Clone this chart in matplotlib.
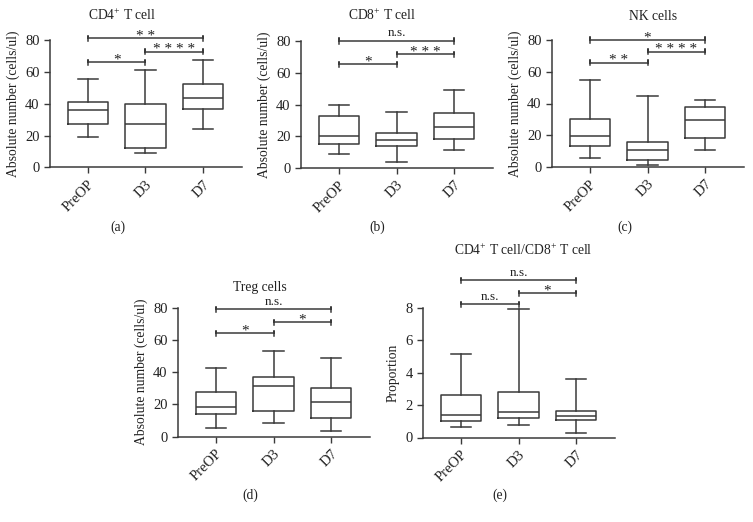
"""Box plots of lymphocyte subsets at PreOP, D3 and D7."""

import matplotlib
matplotlib.use("Agg")
import matplotlib.pyplot as plt

plt.rcParams["font.family"] = ["Liberation Serif", "DejaVu Serif"]
plt.rcParams["mathtext.fontset"] = "custom"
plt.rcParams["mathtext.rm"] = "Liberation Serif"

GROUPS = ["PreOP", "D3", "D7"]

# five-number summaries per group: whisker low, Q1, median, Q3, whisker high
CD4_STATS = [[19, 27.5, 36, 41.5, 56], [9, 12.5, 27.5, 40, 61.5], [24, 37, 43.5, 52.5, 67.5]]
CD8_STATS = [[9, 15, 20, 33, 40], [4, 14, 17.5, 22, 35], [11.5, 18.5, 26, 34.5, 49]]
NK_STATS = [[5.5, 13.5, 19.5, 30, 55], [1.5, 4.5, 11, 16, 45], [11, 18.5, 29.5, 38, 42]]
TREG_STATS = [[5.4, 13.9, 18.1, 27.6, 42.8], [8.3, 15.6, 31.2, 37, 53.4], [3.7, 11.6, 21.4, 30.4, 49]]
RATIO_STATS = [[0.62, 1.0, 1.41, 2.65, 5.13], [0.78, 1.21, 1.6, 2.83, 7.9], [0.29, 1.07, 1.31, 1.66, 3.59]]

# significance brackets: (group i, group j, height, label)
CD4_SIG = [(0, 1, 66.3, "*"), (1, 2, 73, "****"), (0, 2, 81.4, "**")]
CD8_SIG = [(0, 1, 65.3, "*"), (1, 2, 71.6, "***"), (0, 2, 80, "n.s.")]
NK_SIG = [(0, 1, 65.7, "**"), (1, 2, 72.6, "****"), (0, 2, 80, "*")]
TREG_SIG = [(0, 1, 64.2, "*"), (1, 2, 70.9, "*"), (0, 2, 79, "n.s.")]
RATIO_SIG = [(0, 1, 8.2, "n.s."), (1, 2, 8.88, "*"), (0, 2, 9.7, "n.s.")]

Y_TICKS_ABS = [0, 20, 40, 60, 80]
Y_TICKS_RATIO = [0, 2, 4, 6, 8]

W, H = 753, 522
LINE = "#3a3a3a"
fig = plt.figure(figsize=(W / 100, H / 100), dpi=100)


def add_panel(pre_px, top_px, bottom_px):
    # place axes so that the PreOP box sits at pre_px
    left = pre_px - 0.66 * 57.5
    width = 3.34 * 57.5
    return fig.add_axes([left / W, 1 - bottom_px / H, width / W, (bottom_px - top_px) / H])


def draw_panel(ax, stats, sig, yticks, ylabel, title, title_xy, tag, tag_xy):
    bx = [dict(whislo=s[0], q1=s[1], med=s[2], q3=s[3], whishi=s[4], label=g)
          for s, g in zip(stats, GROUPS)]
    props = dict(color=LINE, linewidth=1.1)
    ax.bxp(bx, positions=range(len(GROUPS)), widths=0.7, capwidths=0.35,
           showfliers=False, boxprops=props, whiskerprops=props,
           capprops=props, medianprops=props)
    ax.set_xlim(-0.66, 2.68)
    ax.set_ylim(yticks[0], yticks[-1])
    ax.set_yticks(yticks)
    ax.set_xticks(range(len(GROUPS)))
    ax.set_xticklabels(GROUPS, rotation=45, ha="right", rotation_mode="anchor")
    ax.tick_params(colors=LINE, labelcolor="#222222", labelsize=10.5,
                   length=4, width=1.0)
    for side in ("top", "right"):
        ax.spines[side].set_visible(False)
    for side in ("left", "bottom"):
        ax.spines[side].set_color(LINE)
        ax.spines[side].set_linewidth(1.1)
    ax.set_ylabel(ylabel, fontsize=9.8, color="#222222", labelpad=4)

    span = yticks[-1] - yticks[0]
    tick = span * 0.02
    for i, j, y, lab in sig:
        ax.plot([i, i, i, j, j, j], [y - tick, y + tick, y, y, y + tick, y - tick],
                color=LINE, linewidth=1.1, clip_on=False)
        if lab.startswith("*"):
            ax.text((i + j) / 2, y - span * 0.035, " ".join(lab), ha="center",
                    va="bottom", fontsize=11, color="#222222", clip_on=False)
        else:
            ax.text((i + j) / 2, y + span * 0.012, lab, ha="center", va="bottom",
                    fontsize=9.5, color="#222222", clip_on=False)

    fig.text(title_xy[0] / W, 1 - title_xy[1] / H, title, ha="center",
             va="center", fontsize=9.8, color="#222222")
    fig.text(tag_xy[0] / W, 1 - tag_xy[1] / H, tag, ha="center", va="center",
             fontsize=9.8, color="#222222")


ABS_LABEL = "Absolute number (cells/ul)"

ax_a = add_panel(88, 40.5, 167.5)
draw_panel(ax_a, CD4_STATS, CD4_SIG, Y_TICKS_ABS, ABS_LABEL,
           "CD4$^{+}$ T cell", (122, 15), "(a)", (118, 227))

ax_b = add_panel(339, 41, 168)
draw_panel(ax_b, CD8_STATS, CD8_SIG, Y_TICKS_ABS, ABS_LABEL,
           "CD8$^{+}$ T cell", (382, 15), "(b)", (377, 227))

ax_c = add_panel(590, 40, 167)
draw_panel(ax_c, NK_STATS, NK_SIG, Y_TICKS_ABS, ABS_LABEL,
           "NK cells", (653, 16), "(c)", (625, 227))

ax_d = add_panel(216, 307.7, 436.5)
draw_panel(ax_d, TREG_STATS, TREG_SIG, Y_TICKS_ABS, ABS_LABEL,
           "Treg cells", (260, 287), "(d)", (250, 495))

ax_e = add_panel(461, 307.7, 437.5)
draw_panel(ax_e, RATIO_STATS, RATIO_SIG, Y_TICKS_RATIO, "Proportion",
           "CD4$^{+}$ T cell/CD8$^{+}$ T cell", (523, 250), "(e)", (500, 495))

fig.savefig("out.png", dpi=100, facecolor="white")
